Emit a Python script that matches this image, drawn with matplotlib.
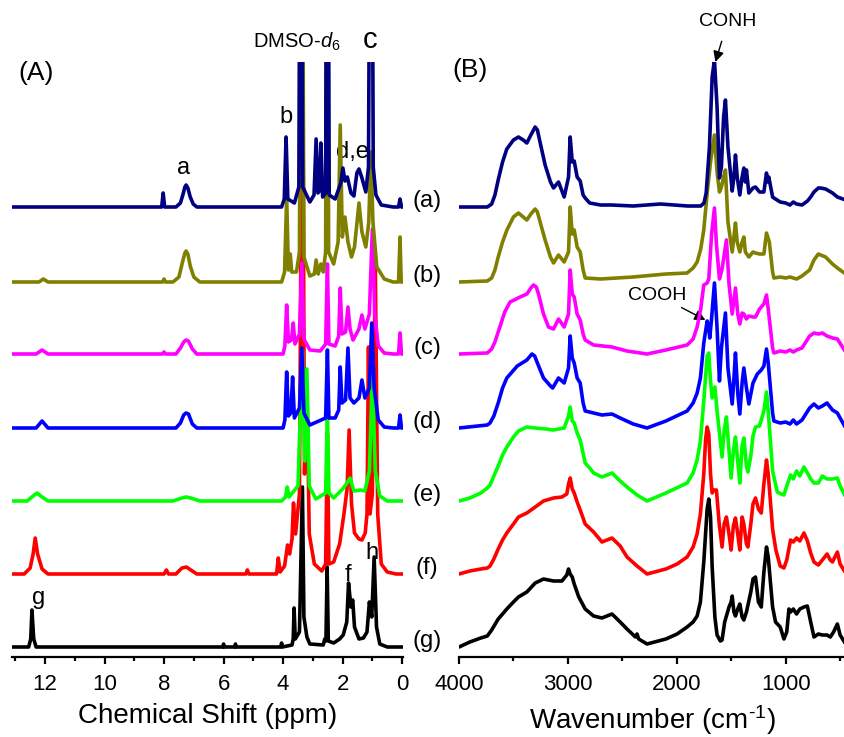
import numpy as np
import matplotlib
matplotlib.use('Agg')
from matplotlib import pyplot as plt
from matplotlib.ticker import MultipleLocator

plt.rcParams['font.family'] = ['Liberation Sans', 'DejaVu Sans']
plt.rcParams['mathtext.fontset'] = 'custom'
plt.rcParams['mathtext.rm'] = 'Liberation Sans'
plt.rcParams['mathtext.it'] = 'Liberation Sans:italic'

# sample names, colours and stacking offsets (top to bottom)
names = ['(a)', '(b)', '(c)', '(d)', '(e)', '(f)', '(g)']
colors = ['#000080', '#808000', '#FF00FF', '#0000FF', '#00FF00', '#FF0000', '#000000']
offsets = [450, 375, 303, 229, 156, 83, 10]

# 1H NMR traces, (ppm, intensity)
nmr_a = [(13.1,0),(8.08,0),(8.03,14),(7.98,0),(7.6,0),(7.45,4),(7.36,13),(7.30,20),(7.26,22),(7.20,19),
         (7.12,10),(7.02,3),(6.9,0),
         (4.05,0),(3.96,8),(3.90,70),(3.84,8),(3.62,4),(3.47,20),(3.40,600),(3.34,20),(3.1,5),(2.96,12),
         (2.89,68),(2.83,14),(2.78,16),(2.73,64),(2.67,10),(2.57,14),(2.51,600),(2.45,12),(2.25,8),(2.06,24),
         (1.99,39),(1.92,26),(1.84,30),(1.72,14),(1.62,11),(1.52,34),(1.45,38),(1.36,30),(1.22,15),(1.13,40),
         (1.04,600),(0.97,40),(0.88,12),(0.7,2),(0.3,0),(0.12,0),(0.07,8),(0.02,0),(-0.05,0)]
nmr_b = [(13.1,0),(12.2,0),(12.06,3),(11.9,0),(8.05,0),(8.0,3),(7.95,0),(7.7,0),(7.5,5),(7.38,20),(7.30,29),
         (7.26,31),(7.20,28),(7.12,16),(7.0,5),(6.8,0),(4.05,0),(3.95,10),(3.88,85),(3.82,12),(3.76,28),
         (3.71,10),(3.55,10),
         (3.45,30),(3.37,600),(3.30,25),(3.1,6),(2.95,8),(2.89,22),(2.82,8),(2.73,18),(2.65,10),(2.57,30),
         (2.52,600),(2.47,30),(2.3,18),(2.15,40),(2.08,157),(2.01,45),(1.92,65),(1.82,40),(1.7,25),(1.6,35),
         (1.45,79),(1.35,50),(1.22,35),(1.12,60),(1.05,130),(0.98,60),(0.85,15),(0.6,3),(0.3,0),(0.12,0),
         (0.07,45),(0.03,0),(-0.05,0)]
nmr_c = [(13.1,0),(12.3,0),(12.1,4),(11.9,0),(8.05,0),(8.0,2),(7.95,0),(7.6,0),(7.45,6),(7.34,12),(7.26,14),
         (7.18,13),(7.05,5),(6.9,0),(4.0,0),(3.94,8),(3.88,49),(3.82,12),(3.72,14),(3.66,31),(3.60,10),
         (3.45,20),(3.37,91),(3.30,15),(3.1,4),(2.75,3),(2.57,10),(2.51,90),(2.46,10),(2.25,8),(2.13,18),
         (2.08,66),(2.02,20),(1.9,22),(1.82,47),(1.75,25),(1.65,14),(1.45,25),(1.35,39),(1.25,25),(1.1,40),
         (1.0,125),(0.92,40),(0.8,8),(0.6,1),(0.3,0),(0.12,0),(0.07,21),(0.02,0),(-0.05,0)]
nmr_d = [(13.1,0),(12.3,0),(12.1,7),(11.9,0),(7.6,0),(7.45,5),(7.34,13),(7.26,15),(7.18,14),(7.05,4),(6.9,0),
         (4.0,0),(3.94,8),(3.88,56),(3.82,12),(3.74,15),(3.68,51),(3.62,10),(3.45,20),(3.37,80),(3.30,15),
         (3.1,3),(2.57,10),(2.51,78),(2.46,10),(2.25,10),(2.13,18),(2.08,61),(2.02,25),(1.9,28),(1.82,80),
         (1.75,30),(1.62,25),(1.45,30),(1.35,48),(1.25,30),(1.1,40),(1.02,105),(0.94,40),(0.8,8),(0.6,1),
         (0.3,0),(0.12,0),(0.07,13),(0.02,0),(-0.05,0)]
nmr_e = [(13.1,0),(12.6,0),(12.4,5),(12.27,8),(12.1,4),(11.9,0),(7.7,0),(7.4,3),(7.26,4),(7.1,3),(6.8,0),
         (4.05,0),(3.92,4),(3.86,14),(3.80,4),(3.5,15),(3.35,150),(3.27,40),(3.20,132),(3.12,15),(2.9,2),
         (2.57,8),(2.51,90),(2.46,8),(2.3,3),(2.0,12),(1.85,18),(1.75,23),(1.62,10),(1.4,11),(1.25,10),
         (1.1,30),(1.0,125),(0.9,30),(0.75,5),(0.5,0),(-0.05,0)]
nmr_f = [(13.1,0),(12.7,0),(12.5,6),(12.4,20),(12.33,36),(12.25,20),(12.1,5),(11.9,0),(8.0,0),(7.92,4),
         (7.85,0),(7.6,0),(7.4,6),(7.25,7),(7.1,4),(6.9,0),(5.25,0),(5.2,4),(5.15,0),(4.22,0),(4.16,16),
         (4.10,2),(3.95,8),(3.85,29),(3.78,20),(3.70,35),(3.65,71),(3.58,40),(3.45,80),(3.35,600),(3.28,100),
         (3.20,190),(3.12,40),(2.95,10),(2.7,3),(2.57,10),(2.51,140),(2.46,10),(2.3,12),(2.1,30),(1.95,61),
         (1.85,85),(1.78,144),(1.70,70),(1.6,41),(1.45,35),(1.35,34),(1.24,41),(1.18,60),(1.13,227),
         (1.08,60),(1.0,80),(0.90,310),(0.82,60),(0.7,10),(0.5,2),(0.2,0),(-0.05,0)]
nmr_g = [(13.1,0),(12.55,0),(12.48,8),(12.44,37),(12.38,8),(12.3,0),(6.02,0),(6.0,3),(5.98,0),(5.62,0),
         (5.6,3),(5.58,0),(4.08,0),(4.05,4),(4.02,0),(3.7,2),(3.66,8),(3.63,39),(3.59,8),(3.45,15),
         (3.35,160),(3.30,30),(3.20,10),(3.1,3),(2.65,2),(2.6,8),(2.56,6),(2.52,80),(2.48,6),(2.3,4),
         (2.1,8),(1.98,12),(1.86,25),(1.80,64),(1.72,40),(1.66,47),(1.60,20),(1.45,8),(1.3,9),(1.18,15),
         (1.10,45),(1.02,30),(0.94,90),(0.86,20),(0.75,3),(0.5,0),(-0.05,0)]

# FTIR traces, (wavenumber, absorbance)
ir_a = [(4000,0),(3740,0),(3700,3),(3670,12),(3640,27),(3600,45),(3561,58),(3500,67),(3454,70),(3410,67),
        (3377,64),(3340,72),(3301,80),(3280,77),(3250,62),(3209,42),(3160,25),
        (3132,19),(3086,25),(3034,10),(2994,30),(2979,70),(2960,45),(2942,46),(2915,30),(2887,26),(2860,12),
        (2841,9),(2800,4),(2700,2),(2600,2),(2400,1),(2150,3),(1900,1),(1780,1),(1750,4),(1730,14),(1700,60),
        (1675,130),(1654,147),(1630,100),(1608,29),(1590,40),(1570,90),(1553,107),(1530,60),(1491,16),(1475,30),
        (1461,52),(1445,30),(1421,12),(1400,30),(1384,39),(1370,25),(1360,37),(1338,14),(1300,19),(1277,20),
        (1240,15),(1200,15),(1176,34),(1166,25),(1155,30),(1120,10),(1108,9),(1050,5),(1000,4),(960,2),
        (930,5),(900,3),(850,2),(800,6),(770,10),(740,15),(700,19),(679,19),(633,18),(570,14),(525,10),(449,7)]
ir_b = [(4000,0),(3740,1),(3700,4),(3670,12),(3640,25),(3600,40),(3560,52),(3500,65),(3454,69),(3410,65),
        (3377,62),(3340,68),(3301,73),(3280,70),(3250,58),(3209,42),(3160,25),
        (3132,19),(3086,27),(3034,20),(2994,30),(2979,75),(2960,48),(2942,52),(2915,35),(2887,30),(2860,12),
        (2841,4),(2700,3),(2400,5),(2100,8),(1905,9),(1850,14),(1813,20),(1780,33),(1752,52),(1720,90),
        (1690,120),(1654,147),
        (1630,110),(1608,90),(1590,95),(1570,105),(1553,112),(1530,60),(1491,30),(1475,45),(1461,59),
        (1445,40),(1421,30),(1400,40),(1384,45),(1370,30),(1338,25),(1300,30),(1277,29),(1240,28),(1200,28),
        (1176,49),(1150,40),(1120,10),(1108,4),(1050,5),(1000,4),(960,5),(900,3),(850,6),(780,12),(740,22),
        (700,28),(679,27),(633,25),(570,18),(525,14),(449,8)]
ir_c = [(4000,0),(3740,1),(3700,5),(3670,12),(3640,22),(3580,42),(3531,52),(3439,57),(3377,60),(3340,66),
        (3316,69),(3290,67),(3270,60),(3224,40),(3178,27),
        (3132,25),(3086,35),(3034,27),(2994,40),(2979,84),(2960,60),(2942,57),(2915,40),(2887,34),(2860,20),
        (2841,14),(2764,9),(2595,7),(2457,3),(2273,0),(2100,4),(1905,9),(1850,15),(1813,27),(1780,45),
        (1752,69),(1721,71),
        (1706,75),(1680,120),(1654,146),(1636,110),(1608,75),(1584,85),(1544,114),(1520,70),(1491,40),
        (1461,66),(1440,40),(1421,30),(1400,41),(1384,40),(1360,35),(1338,38),(1300,37),(1277,37),(1240,45),
        (1200,50),(1176,59),(1160,45),(1120,6),(1108,1),(1050,3),(1000,2),(960,4),(930,2),(900,4),(850,6),
        (780,18),(740,21),(700,20),(663,21),(620,18),(570,16),(525,15),(449,2)]
ir_d = [(4000,0),(3740,3),(3715,5),(3680,12),(3640,25),(3600,40),(3561,50),(3465,62),(3377,68),(3330,74),
        (3305,72),(3280,65),(3224,50),(3160,42),
        (3140,40),(3086,50),(3034,45),(2994,60),(2979,92),(2960,70),(2942,65),(2915,50),(2887,45),(2860,25),
        (2841,17),(2764,15),(2687,13),(2595,14),(2520,10),(2400,4),(2273,0),(2100,7),(1905,17),(1850,25),
        (1813,35),(1783,50),(1752,85),(1721,107),(1706,100),(1697,90),(1680,110),(1654,145),(1630,100),(1608,47),
        (1590,80),(1553,115),(1530,60),(1491,24),(1475,50),(1461,75),(1440,35),(1421,14),(1400,45),(1384,60),
        (1360,40),(1338,24),(1300,45),(1260,54),(1224,58),(1200,62),(1176,79),(1160,65),(1120,15),(1108,7),
        (1050,5),(1000,6),(960,4),(930,8),(900,4),(850,8),(780,20),(740,24),(700,20),(663,22),(620,25),
        (570,18),(525,15),(449,0)]
ir_e = [(4000,0),(3900,3),(3800,8),(3740,13),(3715,16),(3680,25),(3640,35),(3600,46),(3561,54),(3500,64),
        (3454,70),(3377,74),(3300,73),(3200,72),
        (3132,71),(3086,72),(3034,73),(2994,85),(2979,94),(2960,80),(2942,78),(2915,68),(2887,61),(2841,38),
        (2800,33),(2764,28),(2687,24),(2595,28),(2520,20),(2457,14),(2365,6),(2273,0),(2100,8),(1905,18),
        (1850,28),(1813,41),(1783,60),(1752,100),(1721,145),(1706,148),(1690,120),(1675,103),(1650,114),(1630,90),
        (1584,44),(1565,70),(1544,84),(1520,50),(1501,23),(1480,50),(1461,64),(1440,40),(1421,18),(1400,55),
        (1384,63),(1360,35),(1347,29),(1320,45),(1300,65),(1277,74),(1240,75),(1200,90),(1176,109),(1160,90),
        (1120,30),(1077,9),(1040,7),(1016,6),(990,15),(955,26),(930,22),(900,30),(870,25),(832,34),(800,28),
        (770,22),(740,18),(700,18),(663,25),(620,22),(570,22),(525,23),(500,15),(449,4)]
ir_f = [(4000,0),(3900,3),(3800,5),(3740,6),(3715,8),(3680,15),(3640,25),(3600,34),(3561,41),(3500,50),
        (3454,57),(3377,61),(3300,67),(3224,73),
        (3132,76),(3055,77),(3010,80),(2994,90),(2979,96),(2960,85),(2942,81),(2915,72),(2887,64),(2841,50),
        (2764,42),(2687,32),(2595,36),(2520,28),(2457,17),(2365,8),(2273,0),(2100,5),(1997,10),(1905,17),
        (1850,27),(1813,40),(1783,60),(1752,100),(1735,135),(1721,147),(1706,140),(1690,100),(1675,81),(1660,84),
        (1636,84),(1610,50),(1584,27),(1565,50),(1544,57),(1520,40),(1501,24),(1480,48),(1461,56),(1440,40),
        (1421,24),(1400,57),(1384,50),(1360,30),(1347,27),(1320,50),(1300,70),(1277,76),(1250,65),(1224,61),
        (1200,90),(1176,114),(1160,100),(1120,45),(1090,24),(1050,8),(1016,6),(990,14),(955,34),(930,32),
        (900,36),(870,33),(832,41),(800,33),(770,21),(740,12),(700,9),(663,14),(620,20),(590,14),(570,12),
        (525,22),(500,10),(449,1)]
ir_g = [(4000,0),(3900,5),(3800,9),(3740,11),(3700,17),(3640,28),(3600,33),(3561,38),(3500,45),(3454,50),
        (3377,55),(3300,64),(3224,68),
        (3132,66),(3055,66),(3010,72),(2994,78),(2979,73),(2960,70),(2942,63),(2900,50),(2841,38),(2764,31),
        (2687,29),(2595,33),(2520,25),(2457,18),(2380,10),(2365,13),(2350,8),(2273,3),(2100,8),(1997,13),
        (1905,20),(1850,25),(1813,31),(1783,45),(1752,85),(1721,138),(1706,148),(1690,130),(1675,80),(1650,30),
        (1630,12),(1600,6),(1584,7),(1560,25),(1520,40),(1501,45),(1491,51),(1475,35),(1461,31),(1440,38),
        (1421,43),(1400,30),(1384,27),(1360,35),(1320,55),(1300,68),(1277,70),(1250,45),(1224,40),(1200,75),
        (1176,100),(1160,90),(1120,40),(1093,25),(1050,20),(1016,8),(990,15),(970,38),(955,35),(930,38),
        (900,33),(870,38),(832,40),(801,41),(770,25),(740,10),(700,13),(663,12),(620,12),(590,10),(560,15),
        (525,23),(500,12),(449,3)]

nmr_all = [nmr_a, nmr_b, nmr_c, nmr_d, nmr_e, nmr_f, nmr_g]
ir_all = [ir_a, ir_b, ir_c, ir_d, ir_e, ir_f, ir_g]

fig = plt.figure(figsize=(8.45, 7.37), dpi=100)
axA = fig.add_axes([12/845, 1-657/737, 391/845, 595/737])
axB = fig.add_axes([459/845, 1-657/737, 386/845, 595/737])

# draw bottom trace first so (a) sits on top
for i in range(len(names)-1, -1, -1):
    s = np.array(nmr_all[i])
    axA.plot(s[:,0], s[:,1] + offsets[i], color=colors[i], lw=2.6, zorder=10-i,
             solid_joinstyle='round', solid_capstyle='round')
    s = np.array(ir_all[i])
    axB.plot(s[:,0], s[:,1] + offsets[i], color=colors[i], lw=2.6, zorder=10-i,
             solid_joinstyle='round', solid_capstyle='round')

for ax in (axA, axB):
    ax.set_ylim(0, 595)
    for sp in ('top', 'left', 'right'):
        ax.spines[sp].set_visible(False)
    ax.spines['bottom'].set_linewidth(1.6)
    ax.set_yticks([])
    ax.tick_params(axis='x', which='major', length=5, width=1.6, labelsize=16, pad=7)
    ax.tick_params(axis='x', which='minor', length=3, width=1.6)
    ax.patch.set_alpha(0)

axA.set_xlim(13.11, -0.03)
axA.xaxis.set_major_locator(MultipleLocator(2))
axA.xaxis.set_minor_locator(MultipleLocator(1))
axA.set_xlabel('Chemical Shift (ppm)', fontsize=20, labelpad=6)

axB.set_xlim(4000, 455)
axB.xaxis.set_major_locator(MultipleLocator(1000))
axB.xaxis.set_minor_locator(MultipleLocator(500))
axB.set_xlabel('Wavenumber (cm$^{\\mathregular{\u2010}1}$)', fontsize=20, labelpad=6)

# panel letters and peak assignments
axA.text(12.3, 584, '(A)', fontsize=19, ha='center', va='center')
axB.text(3899, 587, '(B)', fontsize=19, ha='center', va='center')
axA.text(7.36, 489, 'a', fontsize=17, ha='center', va='center')
axA.text(3.9, 540, 'b', fontsize=17, ha='center', va='center')
axA.text(1.08, 617, 'c', fontsize=21, ha='center', va='center')
axA.text(3.55, 615, 'DMSO-$d_6$', fontsize=14.5, ha='center', va='center')
axA.text(1.68, 505, 'd,e', fontsize=17, ha='center', va='center')
axA.text(1.82, 82, 'f', fontsize=17, ha='center', va='center')
axA.text(12.2, 59, 'g', fontsize=17, ha='center', va='center')
axA.text(1.0, 104, 'h', fontsize=17, ha='center', va='center')

axB.annotate('CONH', xy=(1645, 595), xytext=(1534, 635), fontsize=14, ha='center', va='center',
             annotation_clip=False,
             arrowprops=dict(arrowstyle='-|>', color='black', lw=1, shrinkA=6, shrinkB=0,
                             mutation_scale=16))
axB.annotate('COOH', xy=(1737, 337), xytext=(2178, 362), fontsize=14, ha='center', va='center',
             arrowprops=dict(arrowstyle='-|>', color='black', lw=1, shrinkA=2, shrinkB=0,
                             mutation_scale=16))

for i, nm in enumerate(names):
    axB.text(-0.083, offsets[i] + 6, nm, transform=axB.get_yaxis_transform(), fontsize=17,
             ha='center', va='center')

fig.savefig('out.png', dpi=100)
